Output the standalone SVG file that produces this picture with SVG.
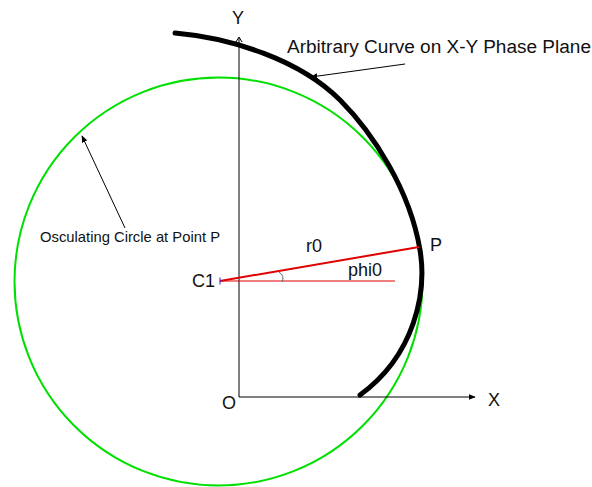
<svg xmlns="http://www.w3.org/2000/svg" width="592" height="487" viewBox="0 0 592 487">
<defs>
<marker id="ah" viewBox="0 0 10 10" refX="9" refY="5" markerWidth="7" markerHeight="7" markerUnits="userSpaceOnUse" orient="auto">
<path d="M0,1 L10,5 L0,9 Z" fill="#000"/>
</marker>
</defs>
<style>
text{font-family:"Liberation Sans",Arial,sans-serif;fill:#111}
.lbl{font-size:18px}
.axis{stroke:#000;stroke-width:1;fill:none}
.pointer{stroke:#000;stroke-width:1;fill:none}
</style>
<rect width="592" height="487" fill="#fff"/>
<g id="osculating-circle">
<circle cx="218.5" cy="281.5" r="204" fill="none" stroke="#00e000" stroke-width="2"/>
</g>
<g id="axes">
<line class="axis" x1="239" y1="38" x2="239" y2="397"/>
<line class="axis" x1="239" y1="397" x2="475" y2="397" marker-end="url(#ah)"/>
<line class="axis" x1="236" y1="42" x2="239" y2="37"/>
<line class="axis" x1="242" y1="42" x2="239" y2="37"/>
</g>
<g id="arbitrary-curve">
<path d="M175,33 C232,38 300,60 340,100 C373,133 410,190 420,250 C427,292 415,355 360,395" fill="none" stroke="#000" stroke-width="5" stroke-linecap="round"/>
</g>
<g id="radius">
<line x1="220" y1="281" x2="395" y2="281" stroke="#e00000" stroke-width="1"/>
<line x1="220" y1="281" x2="419" y2="247" stroke="#e00000" stroke-width="2"/>
<line x1="220" y1="277.5" x2="220" y2="284.5" stroke="#2020e0" stroke-width="1"/>
<path d="M279,272 Q285,276 282,282" fill="none" stroke="#666" stroke-width="1"/>
</g>
<g id="connectors">
<line class="pointer" x1="405" y1="64" x2="311" y2="77" marker-end="url(#ah)"/>
<line class="pointer" x1="125" y1="228" x2="82" y2="136" marker-end="url(#ah)"/>
</g>
<g id="labels">
<text class="lbl" x="232" y="24">Y</text>
<text class="lbl" x="488" y="406">X</text>
<text class="lbl" x="222" y="409">O</text>
<text class="lbl" x="287" y="53" textLength="304" lengthAdjust="spacingAndGlyphs">Arbitrary Curve on X-Y Phase Plane</text>
<text x="40" y="242" font-size="15" textLength="180" lengthAdjust="spacingAndGlyphs">Osculating Circle at Point P</text>
<text class="lbl" x="306" y="252">r0</text>
<text class="lbl" x="348" y="276">phi0</text>
<text class="lbl" x="430" y="251">P</text>
<text class="lbl" x="192" y="287">C1</text>
</g>
</svg>
